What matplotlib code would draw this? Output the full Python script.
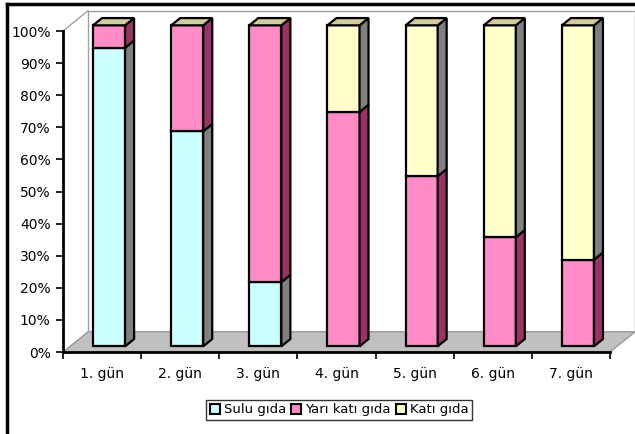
import numpy as np
import matplotlib.pyplot as plt
from matplotlib.patches import Rectangle, Polygon, Patch
from matplotlib.lines import Line2D

# gün bazında gıda dağılımı (%)
gunler = ['1. gün', '2. gün', '3. gün', '4. gün', '5. gün', '6. gün', '7. gün']
sulu = [93, 67, 20, 0, 0, 0, 0]
yari_kati = [7, 33, 80, 73, 53, 34, 27]
kati = [0, 0, 0, 27, 47, 66, 73]
seriler = ['Sulu gıda', 'Yarı katı gıda', 'Katı gıda']

on_renk = ['#CCFFFF', '#FF8CC6', '#FFFFCC']
yan_renk = ['#808080', '#993366', '#808080']
ust_renk = '#D2CC9C'

plt.rcParams['font.family'] = ['DejaVu Sans']

fig = plt.figure(figsize=(6.35, 4.34), dpi=100)
ax = fig.add_axes([63 / 635, 82 / 434, 547 / 635, 321 / 434])
ax.set_xlim(-0.5, len(gunler) - 0.5)
ax.set_ylim(0, 100)

# derinlik ofseti (kategori birimi, yüzde birimi)
dx, dy = 0.32, 6.3
d1, d2 = 0.28, 0.64
w = 0.41
n = len(gunler)

# zemin ve arka duvar
ax.add_patch(Polygon([(-0.5, 0), (n - 0.5, 0), (n - 0.5 + dx, dy), (-0.5 + dx, dy)],
                     closed=True, fc='#C0C0C0', ec='#999999', lw=1, clip_on=False, zorder=1))
ax.add_patch(Rectangle((-0.5 + dx, dy), n, 100, fc='white', ec='#A0A0A0', lw=1,
                       clip_on=False, zorder=0))
ax.add_line(Line2D([-0.5, -0.5 + dx], [100, 100 + dy], color='#A0A0A0', lw=1, clip_on=False, zorder=0))

veriler = [sulu, yari_kati, kati]
for i in range(n):
    xl = i - w / 2
    xr = i + w / 2
    alt = 0
    for s, degerler in enumerate(veriler):
        h = degerler[i]
        if h <= 0:
            continue
        ax.add_patch(Rectangle((xl + dx * d1, alt + dy * d1), w, h, fc=on_renk[s], ec='black',
                               lw=1.6, clip_on=False, zorder=3))
        ax.add_patch(Polygon([(xr + dx * d1, alt + dy * d1), (xr + dx * d2, alt + dy * d2),
                              (xr + dx * d2, alt + h + dy * d2), (xr + dx * d1, alt + h + dy * d1)],
                             closed=True, fc=yan_renk[s], ec='black', lw=1.6, clip_on=False, zorder=3))
        alt += h
    ax.add_patch(Polygon([(xl + dx * d1, alt + dy * d1), (xr + dx * d1, alt + dy * d1),
                          (xr + dx * d2, alt + dy * d2), (xl + dx * d2, alt + dy * d2)],
                         closed=True, fc=ust_renk, ec='black', lw=1.6, clip_on=False, zorder=3))

for k in ['top', 'right']:
    ax.spines[k].set_visible(False)
for k in ['left', 'bottom']:
    ax.spines[k].set_linewidth(2)
    ax.spines[k].set_zorder(4)
ax.patch.set_visible(False)

ax.set_yticks(np.arange(0, 101, 10))
ax.set_yticklabels([f'{v}%' for v in range(0, 101, 10)], fontsize=10)
ax.set_xticks(range(n))
ax.set_xticklabels(gunler, fontsize=10)
ax.set_xticks(np.arange(-0.5, n, 1), minor=True)
ax.tick_params(axis='x', which='major', length=0, pad=11)
ax.tick_params(axis='x', which='minor', length=5, width=1.2, direction='out')
ax.tick_params(axis='y', length=5, width=1.2, direction='out', pad=4)

tutamaclar = [Patch(fc=on_renk[s], ec='black', lw=1.5) for s in range(3)]
leg = fig.legend(tutamaclar, seriler, loc='center', bbox_to_anchor=(339 / 635, 1 - 410 / 434),
                 ncol=3, fontsize=9.5, frameon=True, fancybox=False, handlelength=0.75,
                 handleheight=0.75, handletextpad=0.3, columnspacing=0.4, borderpad=0.3,
                 borderaxespad=0)
leg.get_frame().set_edgecolor('black')
leg.get_frame().set_linewidth(1)

# grafik alanı çerçevesi
fig.add_artist(Line2D([7 / 635, 7 / 635], [0, 1 - 4 / 434], color='black', lw=2.5))
fig.add_artist(Line2D([7 / 635, 1], [1 - 4 / 434, 1 - 4 / 434], color='black', lw=2.5))

fig.savefig('out.png', dpi=100)
